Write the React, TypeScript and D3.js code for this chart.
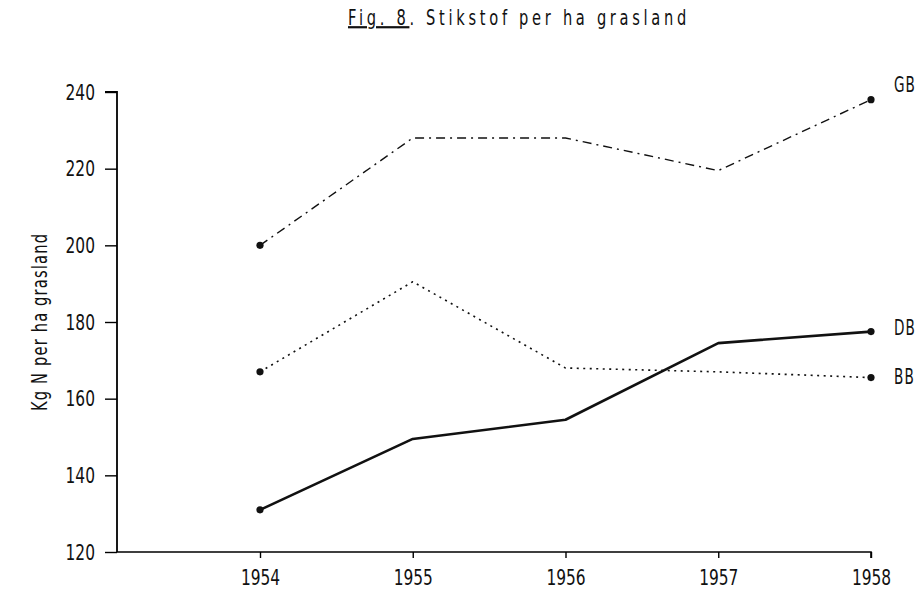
import React, { useEffect, useRef } from 'react';
import * as d3 from 'd3';

const years = [1954, 1955, 1956, 1957, 1958];
const yearLabels = ['1954', '1955', '1956', '1957', '1958'];
const gb = [200, 228, 228, 219.5, 238];
const bb = [167, 190.5, 168, 167, 165.5];
const db = [131, 149.5, 154.5, 174.5, 177.5];
const yTicks = [120, 140, 160, 180, 200, 220, 240];

const series = [
  { name: 'GB', values: gb, dash: '9,5,2,5', width: 1.4, labelDy: -15 },
  { name: 'DB', values: db, dash: null, width: 2.6, labelDy: -4 },
  { name: 'BB', values: bb, dash: '2,4.5', width: 1.6, labelDy: -1 },
];

const font = '"DejaVu Sans Condensed", "DejaVu Sans", sans-serif';
const squeeze = 0.78;

export default function App() {
  const ref = useRef<SVGSVGElement>(null);

  useEffect(() => {
    const svg = d3.select(ref.current);
    svg.selectAll('*').remove();

    const x = d3.scaleLinear().domain([1954, 1958]).range([260, 871]);
    const y = d3.scaleLinear().domain([120, 240]).range([552, 92]);

    // x axis
    const xa = svg.append('g').attr('transform', 'translate(0,552)');
    xa.call(
      d3.axisBottom(x).tickValues(years).tickSize(6).tickFormat((d, i) => yearLabels[i])
    );
    xa.select('.domain').attr('d', 'M117,0H871V6').attr('stroke-width', 1.6);
    xa.selectAll('.tick line').attr('stroke-width', 1.4);
    xa.selectAll('.tick text')
      .attr('y', null)
      .attr('dy', null)
      .attr('transform', `translate(0,33) scale(${squeeze},1)`)
      .attr('font-size', 22)
      .attr('font-family', font)
      .attr('fill', '#111');

    // y axis
    const ya = svg.append('g').attr('transform', 'translate(117,0)');
    ya.call(d3.axisLeft(y).tickValues(yTicks).tickSize(12));
    ya.select('.domain').attr('d', 'M-12,92H0V552').attr('stroke-width', 1.8);
    ya.selectAll('.tick line').attr('stroke-width', 1.4);
    ya.selectAll('.tick text')
      .attr('x', null)
      .attr('transform', `translate(-22,0) scale(${squeeze},1)`)
      .attr('font-size', 22)
      .attr('font-family', font)
      .attr('fill', '#111');

    const line = d3
      .line<number>()
      .x((d, i) => x(years[i]))
      .y((d) => y(d));

    series.forEach((s) => {
      svg
        .append('path')
        .attr('d', line(s.values))
        .attr('fill', 'none')
        .attr('stroke', '#111')
        .attr('stroke-width', s.width)
        .attr('stroke-dasharray', s.dash)
        .attr('stroke-linejoin', 'round');
      [0, s.values.length - 1].forEach((i) => {
        svg
          .append('circle')
          .attr('cx', x(years[i]))
          .attr('cy', y(s.values[i]))
          .attr('r', 3.6)
          .attr('fill', '#111');
      });
      const ly = y(s.values[s.values.length - 1]) + s.labelDy;
      svg
        .append('text')
        .attr('transform', `translate(894,${ly}) scale(0.72,1)`)
        .attr('dy', '0.36em')
        .attr('font-size', 21)
        .attr('font-family', font)
        .attr('letter-spacing', 1.5)
        .attr('fill', '#111')
        .text(s.name);
    });

    // y label
    svg
      .append('text')
      .attr('transform', 'translate(47,322) rotate(-90) scale(0.74,1)')
      .attr('text-anchor', 'middle')
      .attr('font-size', 22)
      .attr('font-family', font)
      .attr('letter-spacing', 1.6)
      .attr('fill', '#111')
      .text('Kg N per ha grasland');

    // title
    const title = svg
      .append('text')
      .attr('transform', 'translate(519,25) scale(0.74,1)')
      .attr('text-anchor', 'middle')
      .attr('font-size', 22)
      .attr('font-family', font)
      .attr('letter-spacing', 5)
      .attr('fill', '#111');
    title.append('tspan').attr('text-decoration', 'underline').text('Fig. 8');
    title.append('tspan').text('. Stikstof per ha grasland');
  }, []);

  return (
    <svg
      ref={ref}
      width={921}
      height={591}
      style={{ position: 'absolute', left: 0, top: 0, background: '#fff' }}
    />
  );
}
